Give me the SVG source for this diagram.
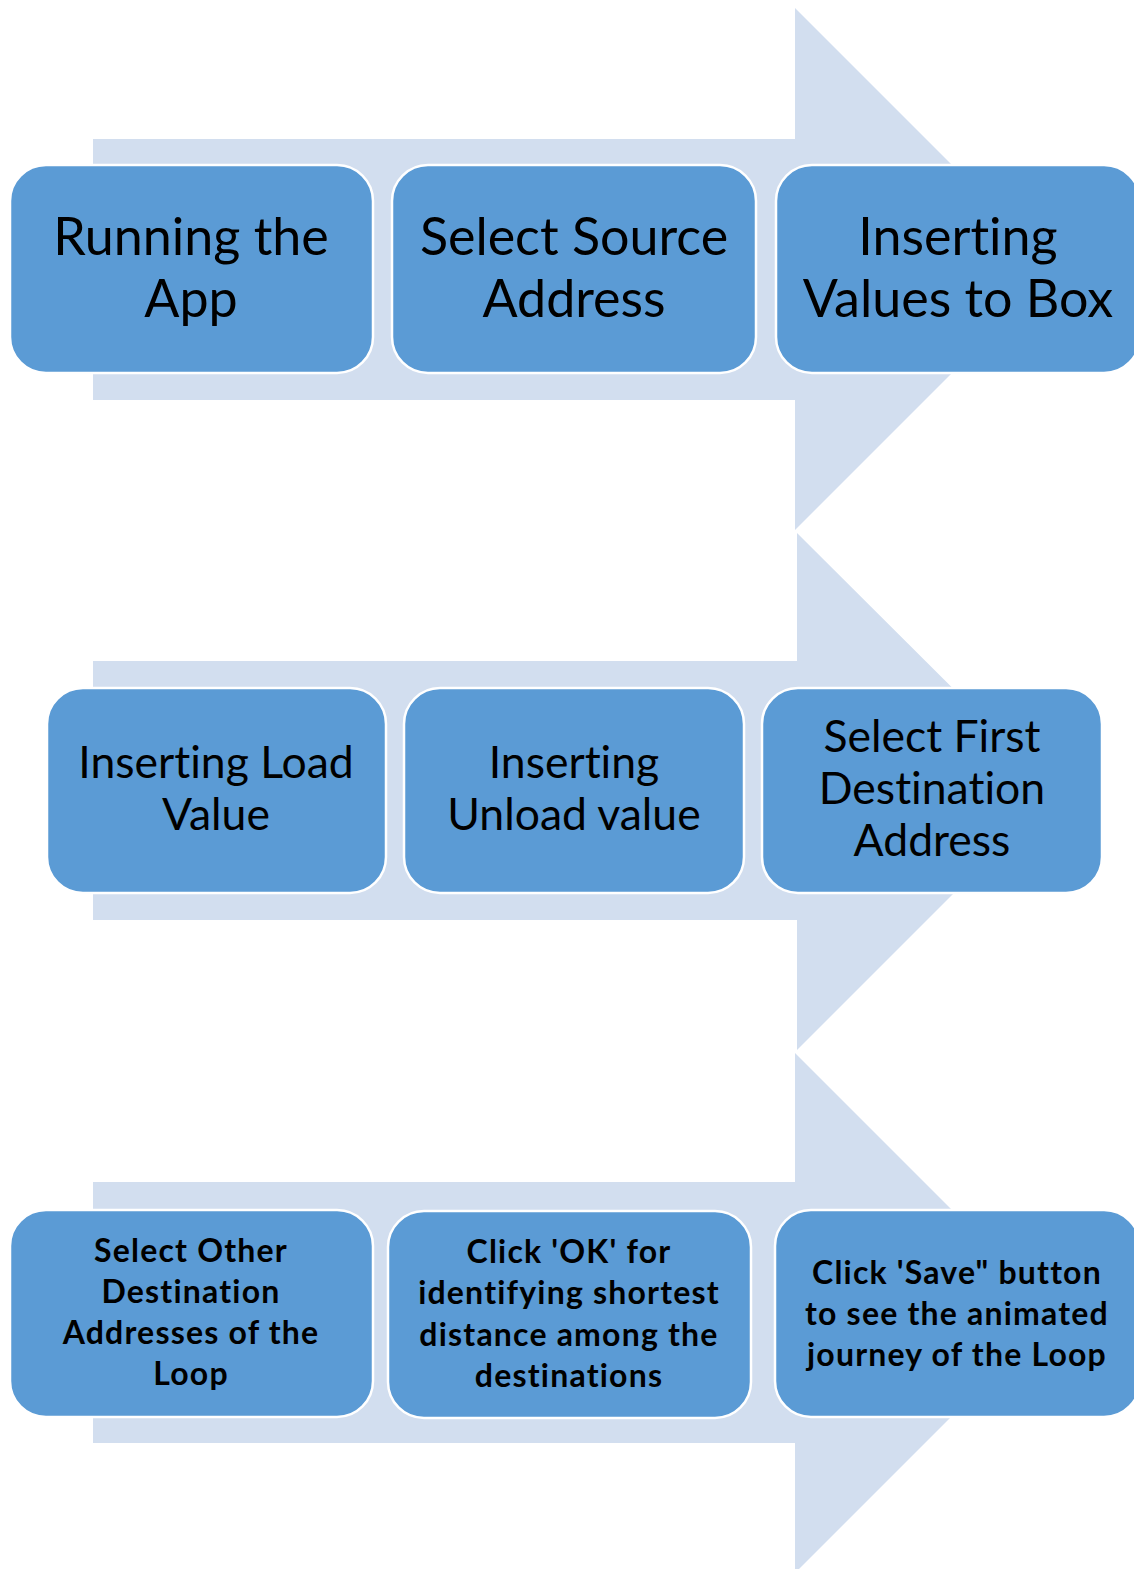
<svg xmlns="http://www.w3.org/2000/svg" width="1134" height="1569" viewBox="0 0 1134 1569">
  <style>
    .arrow { fill: #D2DEEF; }
    .box { fill: #5B9BD5; stroke: #FFFFFF; stroke-width: 2.5; }
    .t { font-family: Lato, "Liberation Sans", sans-serif; fill: #000000; text-anchor: middle; font-variant-ligatures: none; }
    .big { font-size: 52px; }
    .mid { font-size: 44.5px; }
    .small { font-size: 32px; font-weight: bold; letter-spacing: 1.2px; }
  </style>
  <rect width="1134" height="1569" fill="#FFFFFF"/>

  <!-- background process arrows -->
  <g id="connectors">
    <polygon class="arrow" points="93,139 795,139 795,8 1056,269 795,530 795,400 93,400"/>
    <polygon class="arrow" points="93,661 797,661 797,533 1056,791 797,1050 797,920 93,920"/>
    <polygon class="arrow" points="93,1182 795,1182 795,1053 1055,1313 795,1573 795,1443 93,1443"/>
  </g>

  <!-- row 1 -->
  <g id="n1">
    <rect class="box" x="10" y="165" width="363" height="208" rx="36"/>
    <text class="t big" x="191" y="255">Running the</text>
    <text class="t big" x="191" y="317">App</text>
  </g>
  <g id="n2">
    <rect class="box" x="392" y="165" width="364" height="208" rx="36"/>
    <text class="t big" x="574" y="255">Select Source</text>
    <text class="t big" x="574" y="317">Address</text>
  </g>
  <g id="n3">
    <rect class="box" x="776" y="165" width="364" height="208" rx="36"/>
    <text class="t big" x="958" y="255">Inserting</text>
    <text class="t big" x="958" y="317">Values to Box</text>
  </g>

  <!-- row 2 -->
  <g id="n4">
    <rect class="box" x="47" y="688" width="339" height="205" rx="36"/>
    <text class="t mid" x="216" y="778">Inserting Load</text>
    <text class="t mid" x="216" y="830">Value</text>
  </g>
  <g id="n5">
    <rect class="box" x="404" y="688" width="340" height="205" rx="36"/>
    <text class="t mid" x="574" y="778">Inserting</text>
    <text class="t mid" x="574" y="830">Unload value</text>
  </g>
  <g id="n6">
    <rect class="box" x="762" y="688" width="340" height="205" rx="36"/>
    <text class="t mid" x="932" y="752">Select First</text>
    <text class="t mid" x="932" y="804">Destination</text>
    <text class="t mid" x="932" y="856">Address</text>
  </g>

  <!-- row 3 -->
  <g id="n7">
    <rect class="box" x="10" y="1210" width="363" height="207" rx="36"/>
    <text class="t small" x="191" y="1262">Select Other</text>
    <text class="t small" x="191" y="1303">Destination</text>
    <text class="t small" x="191" y="1344">Addresses of the</text>
    <text class="t small" x="191" y="1385">Loop</text>
  </g>
  <g id="n8">
    <rect class="box" x="388" y="1211" width="363" height="207" rx="36"/>
    <text class="t small" x="569" y="1263">Click 'OK' for</text>
    <text class="t small" x="569" y="1304">identifying shortest</text>
    <text class="t small" x="569" y="1346">distance among the</text>
    <text class="t small" x="569" y="1387">destinations</text>
  </g>
  <g id="n9">
    <rect class="box" x="775" y="1210" width="365" height="207" rx="36"/>
    <text class="t small" x="957" y="1284">Click 'Save" button</text>
    <text class="t small" x="957" y="1325">to see the animated</text>
    <text class="t small" x="957" y="1366">journey of the Loop</text>
  </g>
</svg>
